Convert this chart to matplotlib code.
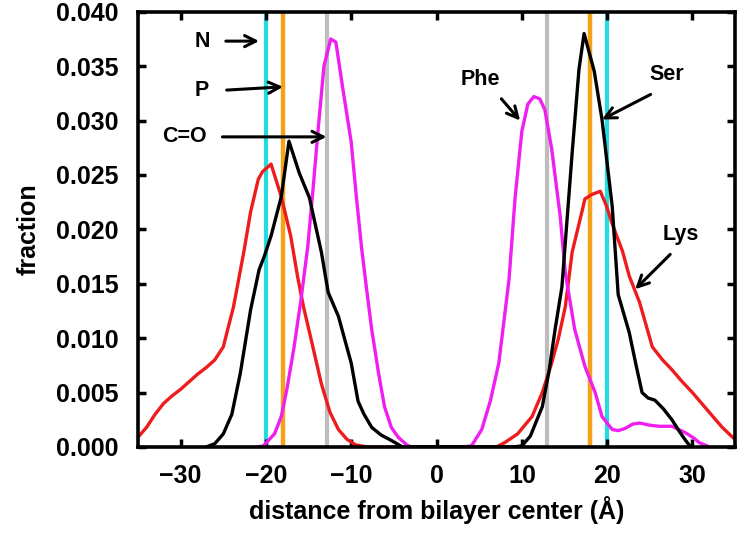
import matplotlib
matplotlib.use("Agg")
import matplotlib.pyplot as plt

plt.rcParams['font.family'] = ['Liberation Sans', 'DejaVu Sans']
plt.rcParams['font.weight'] = 'bold'

# ---- data ----
lys_x = [-35, -34, -33, -32, -31, -30, -29, -28, -27, -26, -25, -23.8, -22.6, -21.8, -20.9,
         -20.4, -19.4, -18.2, -17.1, -16.3, -15.6, -14.5, -13.5, -12.5, -11.5, -10.5, -9.5, -8.5, -8,
         7, 8, 9.5, 11.2, 12.4, 13.5, 14.3, 15.1, 15.9, 17.1, 17.4, 18.2, 19.2, 19.9, 20.6, 21.8,
         22.6, 23.8, 25.3, 26.5, 27.6, 28.8, 30, 31.2, 32.4, 33.5, 34.7, 35]
lys_y = [0.0009, 0.0018, 0.0030, 0.0040, 0.0047, 0.0053, 0.0060, 0.0067, 0.0073, 0.0080, 0.0092,
         0.0129, 0.0179, 0.0216, 0.0246, 0.0253, 0.0260, 0.0230, 0.0194, 0.0157, 0.0129, 0.0092,
         0.0058, 0.0032, 0.0016, 0.0007, 0.0002, 0.00005, 0.0,
         0.0, 0.0004, 0.0012, 0.0028, 0.0050, 0.0077, 0.0100, 0.0129, 0.0179, 0.0218, 0.0228,
         0.0232, 0.0235, 0.0222, 0.0205, 0.0180, 0.0157, 0.0133, 0.0092, 0.0080, 0.0071, 0.0060,
         0.0050, 0.0039, 0.0028, 0.0018, 0.0009, 0.0007]

ser_x = [-27, -26, -25, -24, -23, -21.8, -20.8, -20.2, -19.4, -18.2, -17.3, -16.1, -14.9, -13.5,
         -12.7, -11.5, -10, -9.2, -8.5, -7.6, -6.5, -5.3, -4,
         9, 10, 11, 12.4, 13.2, 13.9, 14.7, 15.9, 16.7, 17.3, 18.5, 19.4, 20.6, 21.3, 22.6, 23.4,
         24.1, 24.8, 25.6, 26.6, 27.6, 28.5, 29.2, 29.8]
ser_y = [0, 0.0003, 0.0012, 0.0030, 0.0068, 0.0126, 0.0163, 0.0175, 0.0194, 0.0230, 0.0281,
         0.0252, 0.0229, 0.0179, 0.0142, 0.0120, 0.0077, 0.0042, 0.0030, 0.0018, 0.0011,
         0.0006, 0.0,
         0, 0.0001, 0.0010, 0.0037, 0.0070, 0.0108, 0.0147, 0.0270, 0.0347, 0.0380, 0.0345,
         0.0301, 0.0221, 0.0140, 0.0105, 0.0075, 0.0050, 0.0045, 0.0043, 0.0035, 0.0025, 0.0014,
         0.0006, 0.0]

phe_x = [-21, -20.3, -19, -18.2, -17.5, -16.7, -15.9, -15.1, -14.5, -13.9, -13.2, -12.4, -11.8,
         -11, -10, -9.4, -8.8, -8.2, -7.6, -6.8, -6.1, -5.3, -4.5, -3.5, -3,
         3, 4.1, 5.3, 6.3, 7.3, 8.5, 9.2, 10, 10.7, 11.4, 12.1, 12.7, 13.5, 14.5, 15.1, 16.2,
         17.4, 18.6, 19.4, 20.6, 21.3, 22.1, 23, 23.8, 25, 26.1, 27.6, 29.2, 30.2, 30.8, 32]
phe_y = [0, 0.0001, 0.0012, 0.0028, 0.0055, 0.0092, 0.0135, 0.0184, 0.0235, 0.0290, 0.0350,
         0.0375, 0.0372, 0.0330, 0.0280, 0.0230, 0.0184, 0.0145, 0.0108, 0.0068, 0.0037, 0.0018,
         0.0009, 0.0002, 0.0,
         0, 0.0001, 0.0016, 0.0042, 0.0077, 0.0154, 0.0228, 0.0290, 0.0315, 0.0322, 0.0320,
         0.0310, 0.0274, 0.0212, 0.0160, 0.0108, 0.0074, 0.0050, 0.0028, 0.0016, 0.0015, 0.0017,
         0.0021, 0.0022, 0.0020, 0.0019, 0.0019, 0.0013, 0.0008, 0.0004, 0.0]

# membrane reference positions
n_pos = [-20, 20]
p_pos = [-18, 18]
co_pos = [-12.8, 12.9]

x_ticks = [-30, -20, -10, 0, 10, 20, 30]
y_ticks = [0.000, 0.005, 0.010, 0.015, 0.020, 0.025, 0.030, 0.035, 0.040]

fig = plt.figure(figsize=(7.38, 5.34), dpi=100)
ax = fig.add_axes([0.187, 0.163, 0.809, 0.815])

for xv in n_pos:
    ax.axvline(xv, color='#22dde0', lw=3, zorder=1)
for xv in p_pos:
    ax.axvline(xv, color='#f5a21b', lw=3.2, zorder=1)
for xv in co_pos:
    ax.axvline(xv, color='#bdbdbd', lw=3, zorder=1)

ax.plot(lys_x, lys_y, color='#ee1c1c', lw=2.4, zorder=3)
ax.plot(phe_x, phe_y, color='#f01ff0', lw=2.4, zorder=3)
ax.plot(ser_x, ser_y, color='black', lw=2.4, zorder=4)

ax.set_xlim(-35, 35)
ax.set_ylim(0, 0.040)
ax.set_xticks(x_ticks)
ax.set_yticks(y_ticks)
ax.set_xticklabels([str(v).replace('-', '\u2212') for v in x_ticks])
ax.set_yticklabels([f"{v:.3f}" for v in y_ticks])
ax.tick_params(direction='in', length=6, width=2.5, top=True, right=True, labelsize=18)
ax.tick_params(axis='x', pad=12)
ax.tick_params(axis='y', pad=14)
for lab in ax.get_xticklabels() + ax.get_yticklabels():
    lab.set_fontweight('bold')
for s in ax.spines.values():
    s.set_linewidth(2.6)
    s.set_zorder(10)

ax.set_xlabel('distance from bilayer center (Å)', fontsize=18, fontweight='bold', labelpad=6)
ax.set_ylabel('fraction', fontsize=18, fontweight='bold', labelpad=11)

aprops = dict(arrowstyle='->', color='black', lw=2.2, mutation_scale=20,
              shrinkA=0, shrinkB=0)
tk = dict(fontsize=15.5, fontweight='bold', ha='center', va='center')

ax.text(-27.5, 0.0373, 'N', **tk)
ax.annotate('', xy=(-20.8, 0.0373), xytext=(-24.7, 0.0373), arrowprops=aprops)
ax.text(-27.5, 0.0328, 'P', **tk)
ax.annotate('', xy=(-18.0, 0.0331), xytext=(-24.6, 0.0328), arrowprops=aprops)
ax.text(-29.6, 0.0285, 'C=O', **tk)
ax.annotate('', xy=(-12.9, 0.0285), xytext=(-25.1, 0.0285), arrowprops=aprops)
ax.text(5.1, 0.0338, 'Phe', **tk)
ax.annotate('', xy=(9.8, 0.0300), xytext=(7.6, 0.0320), arrowprops=aprops)
ax.text(27.0, 0.0342, 'Ser', **tk)
ax.annotate('', xy=(19.4, 0.0301), xytext=(25.1, 0.0324), arrowprops=aprops)
ax.text(28.6, 0.0195, 'Lys', **tk)
ax.annotate('', xy=(23.3, 0.0145), xytext=(27.4, 0.0177), arrowprops=aprops)

fig.savefig('out.png', dpi=100)
